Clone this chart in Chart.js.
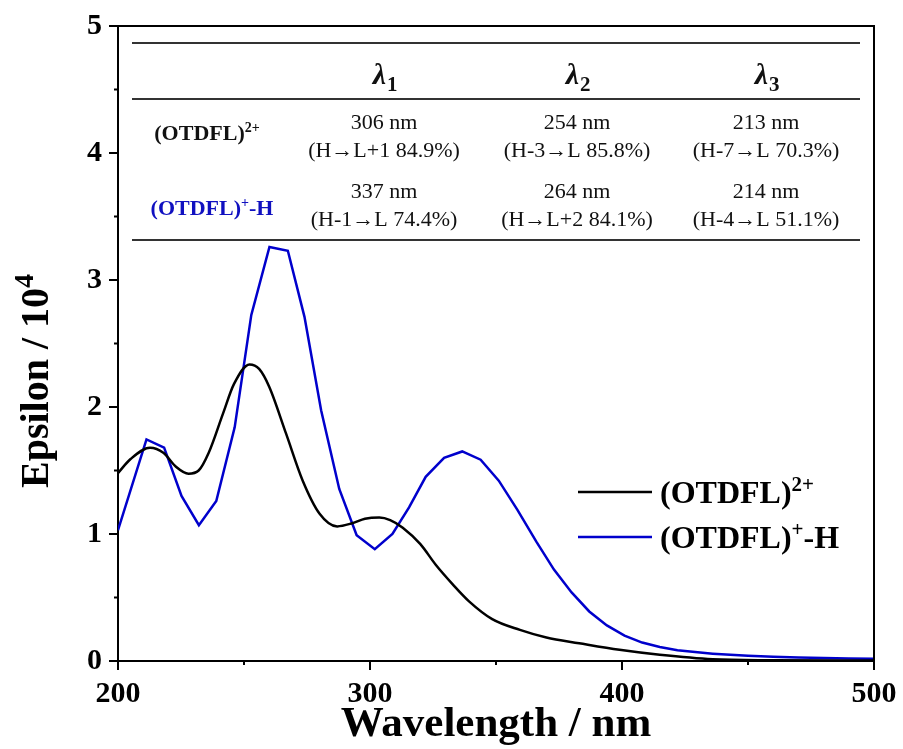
<!DOCTYPE html>
<html>
<head>
<meta charset="utf-8">
<script src="https://cdn.jsdelivr.net/npm/chart.js@4.4.0/dist/chart.umd.min.js"></script>
<style>
  html, body { margin: 0; padding: 0; background: #fff; }
  #wrap { width: 903px; height: 749px; }
</style>
</head>
<body>
<div id="wrap"><canvas id="myChart" width="903" height="749"></canvas></div>
<script>
// (OTDFL)2+  - smooth black spectrum
const blackX = [200, 205, 212.7, 218, 223, 228, 232, 236, 241.7, 246, 252.2, 256, 260, 266.7, 273.3, 280, 287, 293, 298, 303.7, 308, 313, 320, 326, 333, 339.3, 348.5, 359.5, 370, 383, 399, 415, 436, 460, 500];
const blackY = [1.48, 1.59, 1.68, 1.64, 1.53, 1.475, 1.5, 1.64, 1.95, 2.18, 2.335, 2.3, 2.16, 1.79, 1.42, 1.16, 1.06, 1.085, 1.12, 1.13, 1.11, 1.05, 0.92, 0.76, 0.6, 0.47, 0.33, 0.245, 0.185, 0.14, 0.088, 0.049, 0.014, 0.006, 0.003];

// (OTDFL)+-H  - blue spectrum (straight segments)
const blueX = [200, 211.3, 218.3, 225.2, 232.1, 239, 246.3, 252.9, 260.1, 267.4, 274, 280.6, 287.8, 294.7, 301.9, 308.9, 315.5, 322.1, 329.4, 336.6, 343.9, 351.1, 358.5, 366, 373, 380, 387, 394, 401, 408, 415, 422, 429, 436, 443, 450, 460, 470, 480, 490, 500];
const blueY = [1.03, 1.745, 1.68, 1.3, 1.07, 1.26, 1.84, 2.725, 3.26, 3.23, 2.71, 1.975, 1.355, 0.99, 0.88, 1.0, 1.21, 1.45, 1.6, 1.65, 1.585, 1.42, 1.19, 0.94, 0.72, 0.54, 0.39, 0.28, 0.2, 0.145, 0.11, 0.085, 0.07, 0.058, 0.049, 0.041, 0.033, 0.028, 0.024, 0.02, 0.018];

const xMajor = [200, 300, 400, 500];
const xMinor = [250, 350, 450];
const yMajor = [0, 1, 2, 3, 4, 5];
const yMinor = [0.5, 1.5, 2.5, 3.5, 4.5];

// table
const colHeads = ['1', '2', '3'];
const rowLabels = [[['(OTDFL)', 0], ['2+', 1]], [['(OTDFL)', 0], ['+', 1], ['-H', 0]]];
const rowColors = ['#111', '#1010c0'];
const row1 = [['306 nm', '(H\u2192L+1 84.9%)'], ['254 nm', '(H-3\u2192L 85.8%)'], ['213 nm', '(H-7\u2192L 70.3%)']];
const row2 = [['337 nm', '(H-1\u2192L 74.4%)'], ['264 nm', '(H\u2192L+2 84.1%)'], ['214 nm', '(H-4\u2192L 51.1%)']];

const BLUE = '#0000cc';
const SERIF = '"Liberation Serif", "Times New Roman", serif';

function pts(xs, ys) {
  return xs.map((x, i) => ({ x: x, y: ys[i] }));
}

// draws text with superscripts; parts = [[text, isSup], ...]
function drawRich(ctx, parts, x, y, size, supSize, bold, align) {
  const w = bold ? 'bold ' : '';
  let total = 0;
  parts.forEach(p => {
    ctx.font = w + (p[1] ? supSize : size) + 'px ' + SERIF;
    total += ctx.measureText(p[0]).width;
  });
  let cx = align === 'center' ? x - total / 2 : x;
  ctx.textAlign = 'left';
  ctx.textBaseline = 'alphabetic';
  parts.forEach(p => {
    ctx.font = w + (p[1] ? supSize : size) + 'px ' + SERIF;
    ctx.fillText(p[0], cx, p[1] ? y - size * 0.38 : y);
    cx += ctx.measureText(p[0]).width;
  });
}

const decor = {
  id: 'decor',
  afterDraw(chart) {
    const ctx = chart.ctx;
    const a = chart.chartArea;
    const xs = chart.scales.x, ys = chart.scales.y;
    ctx.save();
    ctx.strokeStyle = '#000';
    ctx.lineWidth = 2;
    // top + right frame
    ctx.beginPath();
    ctx.moveTo(a.left, a.top); ctx.lineTo(a.right, a.top); ctx.lineTo(a.right, a.bottom);
    ctx.stroke();
    // ticks
    ctx.beginPath();
    xMajor.forEach(v => { const p = xs.getPixelForValue(v); ctx.moveTo(p, a.bottom); ctx.lineTo(p, a.bottom + 9); });
    xMinor.forEach(v => { const p = xs.getPixelForValue(v); ctx.moveTo(p, a.bottom); ctx.lineTo(p, a.bottom + 4); });
    yMajor.forEach(v => { const p = ys.getPixelForValue(v); ctx.moveTo(a.left, p); ctx.lineTo(a.left - 9, p); });
    yMinor.forEach(v => { const p = ys.getPixelForValue(v); ctx.moveTo(a.left, p); ctx.lineTo(a.left - 4, p); });
    ctx.stroke();

    // y title
    ctx.save();
    ctx.translate(48, 381);
    ctx.rotate(-Math.PI / 2);
    ctx.fillStyle = '#000';
    drawRich(ctx, [['Epsilon / 10', 0], ['4', 1]], 0, 0, 40, 28, true, 'center');
    ctx.restore();

    // table rules
    ctx.strokeStyle = '#333';
    ctx.lineWidth = 2;
    ctx.beginPath();
    [43, 99, 240].forEach(y => { ctx.moveTo(132, y); ctx.lineTo(860, y); });
    ctx.stroke();

    const cols = [384, 577, 766];
    ctx.fillStyle = '#111';
    colHeads.forEach((h, i) => {
      ctx.font = 'bold italic 30px ' + SERIF;
      ctx.textAlign = 'right';
      ctx.textBaseline = 'alphabetic';
      ctx.fillText('\u03bb', cols[i] + 2, 84);
      ctx.font = 'bold 21px ' + SERIF;
      ctx.textAlign = 'left';
      ctx.fillText(h, cols[i] + 3, 91);
    });

    // row labels
    ctx.fillStyle = rowColors[0];
    drawRich(ctx, rowLabels[0], 207, 140, 22, 14, true, 'center');
    ctx.fillStyle = rowColors[1];
    drawRich(ctx, rowLabels[1], 212, 215, 22, 14, true, 'center');

    // cells
    ctx.fillStyle = '#111';
    ctx.font = '22px ' + SERIF;
    ctx.textAlign = 'center';
    ctx.textBaseline = 'middle';
    [row1, row2].forEach((row, r) => {
      const y0 = r === 0 ? 123 : 192;
      row.forEach((cell, i) => {
        ctx.fillText(cell[0], cols[i], y0);
        ctx.fillText(cell[1], cols[i], y0 + 28);
      });
    });

    // legend
    const items = [
      { color: '#000', y: 492, parts: [['(OTDFL)', 0], ['2+', 1]] },
      { color: BLUE, y: 537, parts: [['(OTDFL)', 0], ['+', 1], ['-H', 0]] }
    ];
    items.forEach(it => {
      ctx.strokeStyle = it.color;
      ctx.lineWidth = 2.5;
      ctx.beginPath();
      ctx.moveTo(578, it.y); ctx.lineTo(652, it.y);
      ctx.stroke();
      ctx.fillStyle = '#000';
      drawRich(ctx, it.parts, 660, it.y + 11, 32, 21, true, 'left');
    });
    ctx.restore();
  }
};

const tickFont = { family: SERIF, size: 30, weight: 'bold' };

const config = {
  type: 'line',
  data: {
    datasets: [
      { label: '(OTDFL)2+', data: pts(blackX, blackY), borderColor: '#000', borderWidth: 2.5, pointRadius: 0, cubicInterpolationMode: 'monotone', fill: false },
      { label: '(OTDFL)+-H', data: pts(blueX, blueY), borderColor: BLUE, borderWidth: 2.5, pointRadius: 0, tension: 0, fill: false }
    ]
  },
  options: {
    responsive: false,
    animation: false,
    layout: { padding: { top: 26, right: 29, left: 0, bottom: 0 } },
    plugins: { legend: { display: false }, tooltip: { enabled: false } },
    scales: {
      x: {
        type: 'linear', min: 200, max: 500,
        grid: { display: false, drawTicks: false },
        border: { display: true, color: '#000', width: 2 },
        ticks: { stepSize: 100, color: '#000', font: tickFont, padding: 15, maxRotation: 0 },
        title: { display: true, text: 'Wavelength / nm', color: '#000', font: { family: SERIF, size: 43, weight: 'bold', lineHeight: 1 }, padding: { top: 0, bottom: 3 } },
        afterFit: s => { s.height = 88; s.paddingLeft = 0; s.paddingRight = 0; }
      },
      y: {
        min: 0, max: 5,
        grid: { display: false, drawTicks: false },
        border: { display: true, color: '#000', width: 2 },
        ticks: { stepSize: 1, color: '#000', font: tickFont, padding: 16 },
        afterFit: s => { s.width = 118; s.paddingTop = 0; s.paddingBottom = 0; }
      }
    }
  },
  plugins: [decor]
};

const myChart = new Chart(document.getElementById('myChart'), config);
</script>
</body>
</html>
